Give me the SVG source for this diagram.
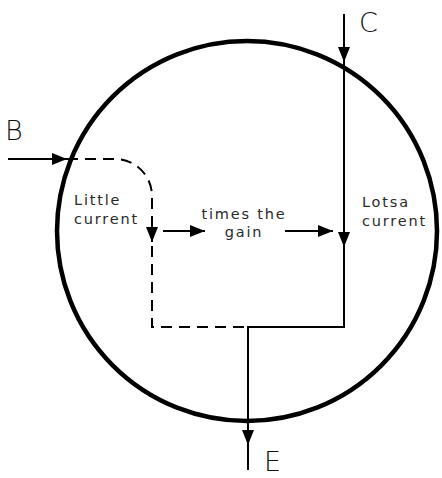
<svg xmlns="http://www.w3.org/2000/svg" width="442" height="478" viewBox="0 0 442 478">
<style>
.w{fill:none;stroke:#000;stroke-width:2}
.d{fill:none;stroke:#000;stroke-width:2;stroke-dasharray:11 7}
.lbl{font-family:"DejaVu Sans",sans-serif;font-size:14.5px;letter-spacing:1.8px;fill:#2a2a2a}
.big{font-family:"DejaVu Sans",sans-serif;font-size:27px;fill:#111;font-weight:200}
</style>
<defs>
<marker id="ah" viewBox="0 0 15 12" refX="15" refY="6" markerWidth="15" markerHeight="12" markerUnits="userSpaceOnUse" orient="auto">
<path d="M0,0 L15,6 L0,12 Z" fill="#000"/>
</marker>
</defs>
<rect width="442" height="478" fill="#fff"/>
<g id="transistor">
<circle cx="247" cy="231" r="190" fill="none" stroke="#000" stroke-width="4.5"/>
</g>
<g id="connectors">
<line class="w" x1="8" y1="159" x2="67" y2="159" marker-end="url(#ah)"/>
<path class="d" d="M67,159 H115 A37,37 0 0 1 152,196 V242" marker-end="url(#ah)"/>
<path class="d" d="M152,246 V327 H248"/>
<line class="w" x1="163" y1="231" x2="205" y2="231" marker-end="url(#ah)"/>
<line class="w" x1="285" y1="231" x2="333" y2="231" marker-end="url(#ah)"/>
<line class="w" x1="344" y1="14" x2="344" y2="62" marker-end="url(#ah)"/>
<line class="w" x1="344" y1="62" x2="344" y2="247" marker-end="url(#ah)"/>
<polyline class="w" points="344,247 344,327 248,327 248,445" marker-end="url(#ah)"/>
<line class="w" x1="248" y1="445" x2="248" y2="470"/>
</g>
<g id="labels">
<text class="big" x="5" y="140">B</text>
<text class="big" x="359" y="32">C</text>
<text class="big" x="264" y="471">E</text>
<text class="lbl" x="74" y="205">Little</text>
<text class="lbl" x="74" y="224">current</text>
<text class="lbl" x="244" y="219" text-anchor="middle">times the</text>
<text class="lbl" x="244" y="237" text-anchor="middle">gain</text>
<text class="lbl" x="362" y="207">Lotsa</text>
<text class="lbl" x="362" y="226">current</text>
</g>
</svg>
